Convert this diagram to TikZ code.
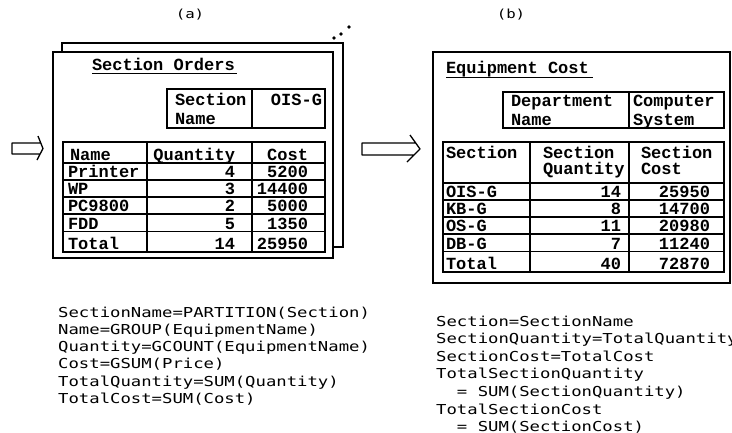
\documentclass[tikz,border=0pt]{standalone}
\usepackage{fontspec}
\usetikzlibrary{calc}
\newfontfamily\tabfamily{Liberation Mono}
\newfontfamily\fmlfamily{DejaVu Sans Mono}[FakeStretch=1.26]
\tikzset{
  cell/.style={font=\tabfamily\bfseries\fontsize{17}{19}\selectfont, inner sep=0pt, outer sep=0pt},
  cellL/.style={cell, anchor=base west},
  cellR/.style={cell, anchor=base east},
  fml/.style={font=\fmlfamily\fontsize{13.7}{16}\selectfont, inner sep=0pt, anchor=base west},
  caption/.style={font=\fmlfamily\fontsize{12.5}{14}\selectfont, inner sep=0pt},
  panel/.style={draw, line width=1.3pt, fill=white},
  rule/.style={line width=1.3pt},
  arrowline/.style={line width=1.3pt, line join=round},
  dotmark/.style={fill=black, circle, inner sep=0pt, minimum size=3.8pt},
}
\begin{document}
\begin{tikzpicture}[x=1pt, y=-1pt]
\clip (0,0) rectangle (732,432);
\fill[white] (0,0) rectangle (732,432);

% ---------- panel (a) ----------
\node[caption] (capA) at (190,15) {(a)};
\draw[panel] (62,43) rectangle (343,247);
\draw[panel] (53,52) rectangle (333,258);
\node[dotmark] (dotA1) at (334,38) {};
\node[dotmark] (dotA2) at (341,34) {};
\node[dotmark] (dotA3) at (349,27) {};

\node[cellL] (titleA) at (92,70) {Section Orders};
\draw[rule] ($(titleA.base west)+(0,3.5)$) -- ($(titleA.base east)+(2,3.5)$);

% parameter box
\draw[rule] (167,89) rectangle (325,128);
\draw[rule] (252,89) -- (252,128);
\node[cellL] (a-pn1) at (175,105) {Section};
\node[cellL] (a-pn2) at (175,124) {Name};
\node[cellR] (a-pv)  at (322,105) {OIS-G};

% detail table
\draw[rule] (63,142) rectangle (325,252);
\draw[rule] (147,142) -- (147,252);
\draw[rule] (252,142) -- (252,252);
\foreach \yy in {163,180,197,214,231.5}
  \draw[rule] (63,\yy) -- (325,\yy);
\node[cellL] (a-h1) at (70,160) {Name};
\node[cellR] (a-h2) at (235,160) {Quantity};
\node[cellR] (a-h3) at (308,160) {Cost};
\foreach \nm/\q/\c/\yy [count=\i] in
  {Printer/4/5200/177.5, WP/3/14400/194.5, PC9800/2/5000/211.5,
   FDD/5/1350/229, Total/14/25950/249}{
  \node[cellL] (a-n\i) at (68,\yy) {\nm};
  \node[cellR] (a-q\i) at (235,\yy) {\q};
  \node[cellR] (a-c\i) at (308,\yy) {\c};
}

% ---------- panel (b) ----------
\node[caption] (capB) at (511,15) {(b)};
\draw[panel] (433,52) rectangle (730,283);

\node[cellL] (titleB) at (446,73) {Equipment Cost};
\draw[rule] ($(titleB.base west)+(0,4.5)$) -- ($(titleB.base east)+(4,4.5)$);

\draw[rule] (503,92) rectangle (724,128);
\draw[rule] (629,92) -- (629,128);
\node[cellL] (b-pn1) at (511,106) {Department};
\node[cellL] (b-pn2) at (511,125) {Name};
\node[cellL] (b-pv1) at (633,106) {Computer};
\node[cellL] (b-pv2) at (633,125) {System};

\draw[rule] (443,142) rectangle (724,272);
\draw[rule] (530,142) -- (530,272);
\draw[rule] (629,142) -- (629,272);
\foreach \yy in {183,200,217,234,251.5}
  \draw[rule] (443,\yy) -- (724,\yy);
\node[cellL] (b-h1)  at (446,158) {Section};
\node[cellL] (b-h2a) at (543,158) {Section};
\node[cellL] (b-h2b) at (543,174) {Quantity};
\node[cellL] (b-h3a) at (641,158) {Section};
\node[cellL] (b-h3b) at (641,174) {Cost};
\foreach \nm/\q/\c/\yy [count=\i] in
  {OIS-G/14/25950/197.5, KB-G/8/14700/214.5, OS-G/11/20980/231.5,
   DB-G/7/11240/249, Total/40/72870/269}{
  \node[cellL] (b-n\i) at (446,\yy) {\nm};
  \node[cellR] (b-q\i) at (621,\yy) {\q};
  \node[cellR] (b-c\i) at (710,\yy) {\c};
}

% ---------- flow arrows ----------
\coordinate (arrA-tail) at (12,148.5);
\coordinate (arrA-tip)  at (43,148.5);
\draw[arrowline]
  ($(arrA-tip)+(-2.5,-5.5)$) -- ($(arrA-tail)+(0,-5.5)$) --
  ($(arrA-tail)+(0,5.5)$) -- ($(arrA-tip)+(-2.5,5.5)$)
  ($(arrA-tip)+(-5,-12.5)$) -- (arrA-tip) -- ($(arrA-tip)+(-6,11.5)$);

\coordinate (arrB-tail) at (362,149);
\coordinate (arrB-tip)  at (420,149);
\draw[arrowline]
  ($(arrB-tip)+(-4.5,-6)$) -- ($(arrB-tail)+(0,-6)$) --
  ($(arrB-tail)+(0,6)$) -- ($(arrB-tip)+(-6,6)$)
  ($(arrB-tip)+(-10,-14)$) -- (arrB-tip) -- ($(arrB-tip)+(-13,13)$);

% ---------- definitions ----------
\foreach \t [count=\i] in
  {SectionName=PARTITION(Section), Name=GROUP(EquipmentName),
   Quantity=GCOUNT(EquipmentName), Cost=GSUM(Price),
   TotalQuantity=SUM(Quantity), TotalCost=SUM(Cost)}
  \node[fml] (defA\i) at (58,{317+17.3*(\i-1)}) {\t};

\foreach \t [count=\i] in
  {Section=SectionName, SectionQuantity=TotalQuantity,
   SectionCost=TotalCost, TotalSectionQuantity,
   \hphantom{TT}= SUM(SectionQuantity), TotalSectionCost,
   \hphantom{TT}= SUM(SectionCost)}
  \node[fml] (defB\i) at (436,{326+17.6*(\i-1)}) {\t};
\end{tikzpicture}
\end{document}
